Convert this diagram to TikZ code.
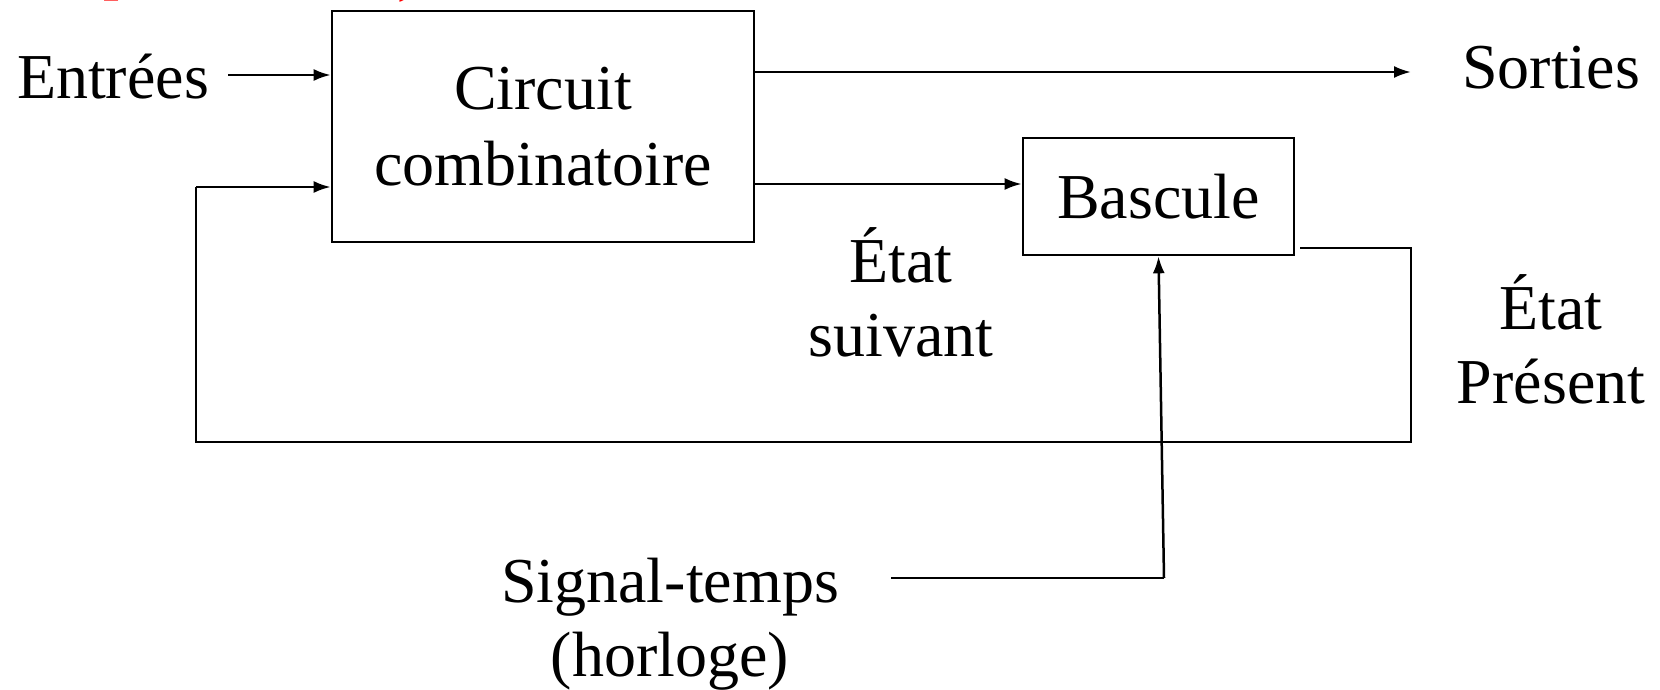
\documentclass[tikz,border=0pt]{standalone}
\usepackage{fontspec}
\setmainfont{Liberation Serif}
\usetikzlibrary{arrows.meta}
\begin{document}
\begin{tikzpicture}[x=1pt,y=-1pt,
  txt/.style={font=\fontsize{64}{76}\selectfont, inner sep=0pt, align=center},
  blk/.style={draw, line width=2.6pt, inner sep=0pt, font=\fontsize{64}{76}\selectfont, align=center},
  conn/.style={line width=2.5pt},
  arr/.style={conn, -{Latex[length=17pt,width=12pt]}}]
\useasboundingbox (0,0) rectangle (1660,690);

% red title fragments (cut off at the top)
\begin{scope}
  \clip (0,0) rectangle (1660,690);
  \node[txt, red, anchor=base] (t1) at (119,-12) {p};
  \node[txt, red, anchor=base] (t2) at (405,-7) {,};
\end{scope}

% blocks
\node[blk, minimum width=422pt, minimum height=231pt] (comb) at (543,126.5) {Circuit\\combinatoire};
\node[blk, minimum width=271pt, minimum height=117pt] (basc) at (1158.5,196.5) {Bascule};

% labels
\node[txt, anchor=base] (entrees) at (113,99) {Entrées};
\node[txt, anchor=base] (sorties) at (1551,89) {Sorties};
\node[txt, anchor=base] (es1) at (901,282) {État};
\node[txt, anchor=base] (es2) at (901,356) {suivant};
\node[txt, anchor=base] (ep1) at (1551,329) {État};
\node[txt, anchor=base] (ep2) at (1551,403) {Présent};
\node[txt, anchor=base] (sig1) at (670,602) {Signal-temps};
\node[txt, anchor=base] (sig2) at (670,676) {(horloge)};

% coordinates
\coordinate (inA) at (228,75);
\coordinate (sout) at (1411,72);
\coordinate (ns) at (0,184);
\coordinate (qs) at (1300,248);
\coordinate (fbR) at (1411,442);
\coordinate (fbL) at (196,187);
\coordinate (clk) at (891,578);
\coordinate (clkc) at (1164,578);

% connectors
\draw[arr] (inA) -- (inA -| comb.west);
\draw[arr] (sout -| comb.east) -- (sout);
\draw[arr] (comb.east |- ns) -- (basc.west |- ns);
\draw[conn] (qs) -| (fbR) -| (fbL);
\draw[arr] (fbL) -- (fbL -| comb.west);
\draw[conn] (clk) -- (clkc);
\draw[arr] (clkc) -- (basc.south);
\end{tikzpicture}
\end{document}
